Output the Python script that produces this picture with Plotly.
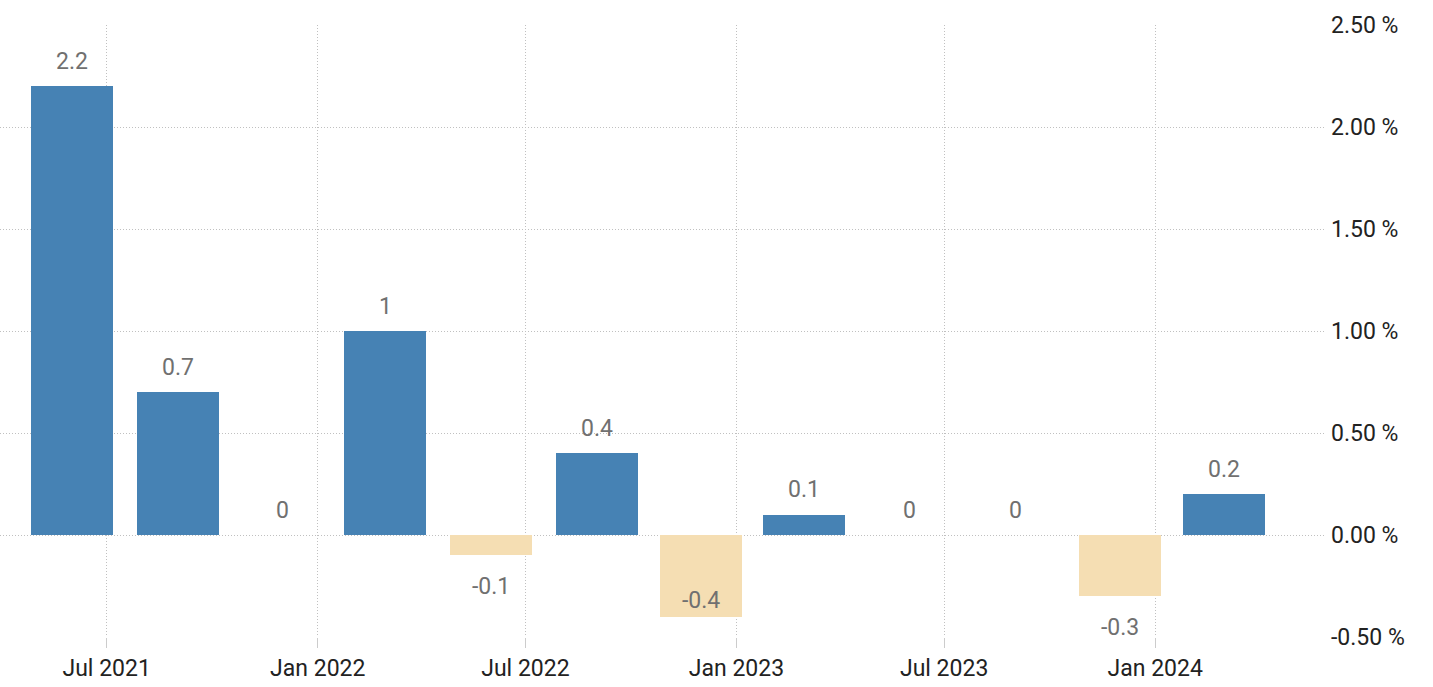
import plotly.graph_objects as go

# Data
periods = ["2021-06-01", "2021-09-01", "2021-12-01", "2022-03-01", "2022-06-01", "2022-09-01",
           "2022-12-01", "2023-03-01", "2023-06-01", "2023-09-01", "2023-12-01", "2024-03-01"]
values = [2.2, 0.7, 0.0, 1.0, -0.1, 0.4, -0.4, 0.1, 0.0, 0.0, -0.3, 0.2]
label_texts = ["2.2", "0.7", "0", "1", "-0.1", "0.4", "-0.4", "0.1", "0", "0", "-0.3", "0.2"]
y_ticks = [-0.5, 0.0, 0.5, 1.0, 1.5, 2.0, 2.5]
y_tick_labels = ["-0.50 %", "0.00 %", "0.50 %", "1.00 %", "1.50 %", "2.00 %", "2.50 %"]
x_ticks = ["2021-07-01", "2022-01-01", "2022-07-01", "2023-01-01", "2023-07-01", "2024-01-01"]

BLUE = "#4682B4"
WHEAT = "#F5DEB3"
FONT = "Roboto, sans-serif"
DAY_MS = 86400000
GRID = "#c0c0c0"

colors = [BLUE if v > 0 else WHEAT for v in values]

fig = go.Figure()
fig.add_trace(go.Bar(
    x=periods, y=values,
    marker=dict(color=colors, line=dict(width=0)),
    width=[71.5 * DAY_MS] * len(values),
    hoverinfo="x+y",
))

annotations = []
for x, v, t in zip(periods, values, label_texts):
    if v >= 0:
        ys = 25
    elif v - 0.2 < -0.52:
        ys = 16
    else:
        ys = -31
    annotations.append(dict(
        x=x, y=v, xref="x", yref="y", text=t, showarrow=False,
        yanchor="middle", xanchor="center", yshift=ys,
        font=dict(family=FONT, size=23, color="#707070"),
    ))

fig.update_layout(
    width=1433, height=687,
    margin=dict(l=0, r=108, t=25, b=50),
    plot_bgcolor="white", paper_bgcolor="white",
    showlegend=False,
    bargap=0,
    annotations=annotations,
    xaxis=dict(
        type="date",
        range=["2021-03-30", "2024-05-28"],
        tickvals=x_ticks,
        tickformat="%b %Y",
        showgrid=True, gridcolor=GRID, griddash="1px,2px", gridwidth=1,
        ticks="outside", ticklen=10, tickcolor="#cccccc", tickwidth=1,
        showline=False, zeroline=False,
        tickfont=dict(family=FONT, size=23, color="#222222"),
    ),
    yaxis=dict(
        side="right",
        range=[-0.5, 2.5],
        tickvals=y_ticks,
        ticktext=y_tick_labels,
        showgrid=True, gridcolor=GRID, griddash="1px,2px", gridwidth=1,
        zeroline=False, showline=False, ticks="",
        ticklabelstandoff=5,
        tickfont=dict(family=FONT, size=23, color="#222222"),
    ),
)

fig.write_html(
    "out.html",
    config={"displayModeBar": False},
    post_script="document.body.style.margin='0';document.body.style.overflow='hidden';",
)
